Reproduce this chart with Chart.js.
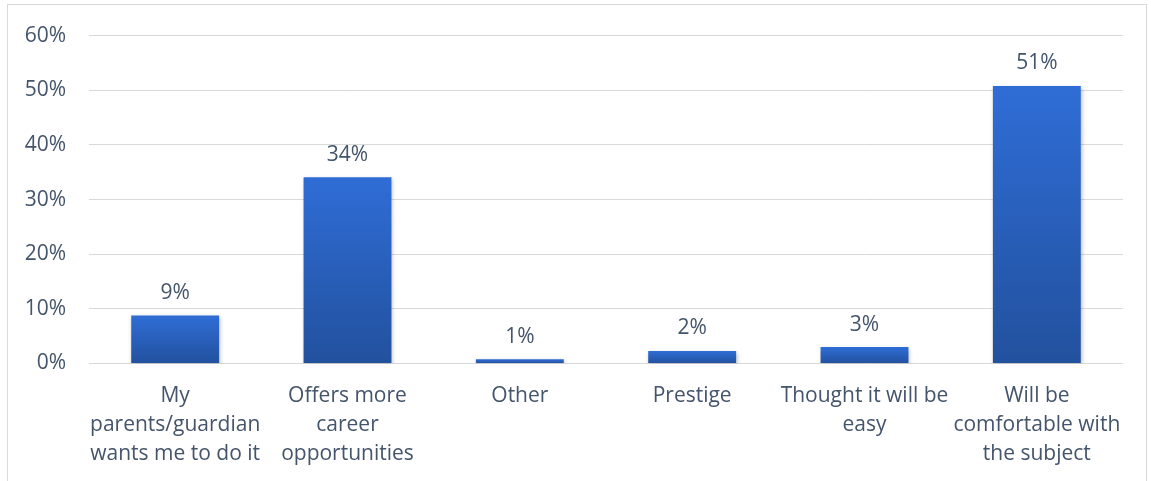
<!DOCTYPE html>
<html>
<head>
<meta charset="utf-8">
<script src="https://cdn.jsdelivr.net/npm/chart.js@4.4.1/dist/chart.umd.min.js"></script>
<style>
  html, body { margin: 0; padding: 0; background: #fff; }
  #wrap { position: relative; width: 1151px; height: 481px; overflow: hidden; }
  #frame { position: absolute; left: 7px; top: 4px; width: 1140px; height: 500px; border: 1px solid #d9d9d9; box-sizing: border-box; }
  #reasons-chart { position: absolute; left: 0; top: 0; }
</style>
</head>
<body>
<div id="wrap">
  <div id="frame"></div>
  <canvas id="reasons-chart" width="1151" height="481"></canvas>
</div>
<script>
// Reasons for choosing the subject (share of respondents, %)
const reasons = [
  ['My', 'parents/guardian', 'wants me to do it'],
  ['Offers more', 'career', 'opportunities'],
  ['Other'],
  ['Prestige'],
  ['Thought it will be', 'easy'],
  ['Will be', 'comfortable with', 'the subject']
];
const shares = [8.8, 34.1, 0.8, 2.3, 3.0, 50.8];
const yTicks = [0, 10, 20, 30, 40, 50, 60];

const textColor = '#44546a';
const fontFamily = '"Open Sans", Lato, sans-serif';
const fontSize = 21;

// vertical gradient per bar, light on top, darker at the base
function barFill(context) {
  const chart = context.chart;
  const y = chart.scales.y;
  if (!chart.chartArea || !y || context.parsed == null) return '#2b63c4';
  const top = y.getPixelForValue(context.parsed.y);
  const bottom = y.getPixelForValue(0);
  if (!isFinite(top) || !isFinite(bottom)) return '#2b63c4';
  const g = chart.ctx.createLinearGradient(0, top, 0, bottom);
  g.addColorStop(0, '#2f6dd6');
  g.addColorStop(1, '#22519e');
  return g;
}

const barShadow = {
  id: 'barShadow',
  beforeDatasetsDraw(chart) {
    const ctx = chart.ctx;
    ctx.save();
    ctx.shadowColor = 'rgba(0,0,0,0.28)';
    ctx.shadowBlur = 4;
    ctx.shadowOffsetX = 1;
    ctx.shadowOffsetY = 2;
  },
  afterDatasetsDraw(chart) {
    chart.ctx.restore();
  }
};

const valueLabels = {
  id: 'valueLabels',
  afterDatasetsDraw(chart) {
    const ctx = chart.ctx;
    const meta = chart.getDatasetMeta(0);
    ctx.save();
    ctx.font = fontSize + 'px ' + fontFamily;
    ctx.fillStyle = textColor;
    ctx.textAlign = 'center';
    ctx.textBaseline = 'bottom';
    meta.data.forEach((bar, i) => {
      ctx.fillText(Math.round(shares[i]) + '%', bar.x, bar.y - 12);
    });
    ctx.restore();
  }
};

new Chart(document.getElementById('reasons-chart'), {
  type: 'bar',
  data: {
    labels: reasons,
    datasets: [{
      data: shares,
      backgroundColor: barFill,
      borderWidth: 0,
      barPercentage: 0.51,
      categoryPercentage: 1
    }]
  },
  options: {
    responsive: false,
    animation: false,
    layout: { padding: { top: 33, right: 28, left: 0, bottom: 0 } },
    plugins: {
      legend: { display: false },
      tooltip: { enabled: false }
    },
    scales: {
      x: {
        grid: { display: false },
        border: { display: false },
        ticks: {
          color: textColor,
          font: { family: fontFamily, size: fontSize, lineHeight: 1.38 },
          padding: 10,
          maxRotation: 0,
          autoSkip: false
        },
        afterFit(axis) { axis.height = 117.5; }
      },
      y: {
        min: 0,
        max: 60,
        afterBuildTicks(axis) { axis.ticks = yTicks.map(v => ({ value: v })); },
        grid: { color: '#d9d9d9', lineWidth: 1, drawTicks: false },
        border: { display: false },
        ticks: {
          color: textColor,
          font: { family: fontFamily, size: fontSize },
          padding: 23,
          callback: (v) => v + '%'
        },
        afterFit(axis) { axis.width = 89; }
      }
    }
  },
  plugins: [barShadow, valueLabels]
});
</script>
</body>
</html>
